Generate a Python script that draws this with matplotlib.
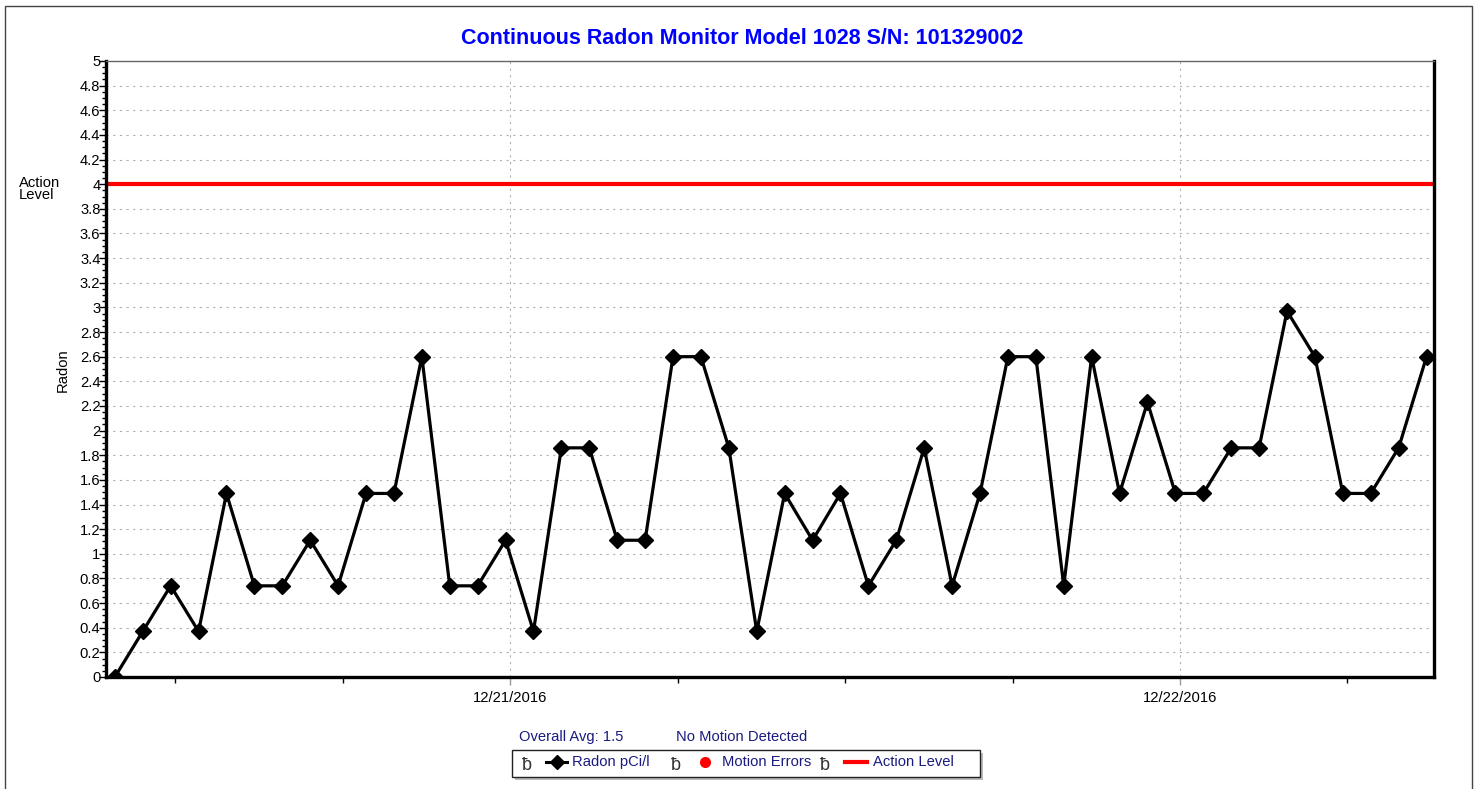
import matplotlib
matplotlib.use("Agg")
import matplotlib.pyplot as plt
import matplotlib.dates as mdates
import pandas as pd
from matplotlib.lines import Line2D
from matplotlib.patches import Rectangle
from matplotlib.ticker import MultipleLocator, FuncFormatter

plt.rcParams["font.family"] = ["Liberation Sans", "DejaVu Sans"]

# hourly readings, pCi/l
start_time = "2016-12-20 09:50"
radon = [0.0, 0.37, 0.74, 0.37, 1.49, 0.74, 0.74, 1.11, 0.74, 1.49,
         1.49, 2.6, 0.74, 0.74, 1.11, 0.37, 1.86, 1.86, 1.11, 1.11,
         2.6, 2.6, 1.86, 0.37, 1.49, 1.11, 1.49, 0.74, 1.11, 1.86,
         0.74, 1.49, 2.6, 2.6, 0.74, 2.6, 1.49, 2.23, 1.49, 1.49,
         1.86, 1.86, 2.97, 2.6, 1.49, 1.49, 1.86, 2.6]
times = pd.date_range(start_time, periods=len(radon), freq="h")
action_level = 4
overall_avg = 1.5

title = "Continuous Radon Monitor Model 1028 S/N: 101329002"
navy = "#1a1a80"
small = 10.6

fig = plt.figure(figsize=(14.82, 7.89), dpi=100)
W, H = 1482, 789


def fx(px):
    return px / W


def fy(py):
    return 1 - py / H


# outer frame
fig.patches.append(Rectangle((fx(5), fy(795)), fx(1467), 1, transform=fig.transFigure,
                             fill=False, edgecolor="#444444", linewidth=1))

ax = fig.add_axes([fx(106), fy(677), fx(1434 - 106), fy(61) - fy(677)])

ax.plot(times, radon, color="black", linewidth=2.3, marker="D", markersize=8.5, zorder=3)
ax.axhline(action_level, color="#ff0000", linewidth=3, zorder=2)

ax.set_xlim(pd.Timestamp("2016-12-20 09:31"), pd.Timestamp("2016-12-22 09:06"))
ax.set_ylim(0, 5)

ax.yaxis.set_major_locator(MultipleLocator(0.2))
ax.yaxis.set_minor_locator(MultipleLocator(0.05))
ax.yaxis.set_major_formatter(FuncFormatter(lambda v, p: f"{v:g}"))
ax.tick_params(axis="y", which="major", length=5, width=1, pad=-1, labelsize=small, direction="out")
ax.tick_params(axis="y", which="minor", length=3, width=1, direction="out")

ax.xaxis.set_major_locator(mdates.DayLocator())
ax.xaxis.set_minor_locator(mdates.HourLocator(byhour=[6, 12, 18]))
ax.xaxis.set_major_formatter(mdates.DateFormatter("%m/%d/%Y"))
ax.tick_params(axis="x", which="major", length=6, width=1, color="#999999", pad=4, labelsize=small)
ax.tick_params(axis="x", which="minor", length=4, width=1, color="black")

grid_style = dict(color="#b0b0b0", linestyle=(0, (2, 4)), linewidth=0.8)
ax.grid(True, axis="y", which="major", **grid_style)
ax.grid(True, axis="x", which="major", **grid_style)

for side in ["left", "bottom", "right"]:
    ax.spines[side].set_linewidth(2.4)
    ax.spines[side].set_color("black")
ax.spines["top"].set_linewidth(1)
ax.spines["top"].set_color("#666666")

fig.text(fx(742), fy(38), title, ha="center", va="center", fontsize=15.5,
         fontweight="bold", color="#0000ff")
fig.text(fx(19), fy(189), "Action\nLevel", ha="left", va="center", fontsize=small, linespacing=0.8)
fig.text(fx(63), fy(370), "Radon", ha="center", va="center", rotation=90, fontsize=small)

# legend area
fig.text(fx(519), fy(737), f"Overall Avg: {overall_avg}", ha="left", va="center",
         fontsize=small, color=navy)
fig.text(fx(676), fy(737), "No Motion Detected", ha="left", va="center",
         fontsize=small, color=navy)

fig.patches.append(Rectangle((fx(515), fy(780)), fx(468), fy(753) - fy(780),
                             transform=fig.transFigure, facecolor="#bbbbbb",
                             edgecolor="none", zorder=1))
fig.patches.append(Rectangle((fx(512), fy(777)), fx(468), fy(750) - fy(777),
                             transform=fig.transFigure, facecolor="white",
                             edgecolor="#222222", linewidth=1, zorder=2))

row_y = fy(762)
for bx in [527, 676, 825]:
    fig.text(fx(bx), fy(765), "ƀ", ha="center", va="center", fontsize=13, color="#333333", zorder=3)

fig.add_artist(Line2D([fx(546), fx(567)], [row_y, row_y], color="black", linewidth=2.2, zorder=3))
fig.add_artist(Line2D([fx(556.5)], [row_y], color="black", marker="D", markersize=7,
                      linestyle="none", zorder=3))
fig.text(fx(572), row_y, "Radon pCi/l", ha="left", va="center", fontsize=small, color=navy)

fig.add_artist(Line2D([fx(705)], [row_y], color="#ff0000", marker="o", markersize=7,
                      linestyle="none", zorder=3))
fig.text(fx(722), row_y, "Motion Errors", ha="left", va="center", fontsize=small, color=navy)

fig.add_artist(Line2D([fx(845), fx(867)], [row_y, row_y], color="#ff0000", linewidth=3, zorder=3))
fig.text(fx(873), row_y, "Action Level", ha="left", va="center", fontsize=small, color=navy)

fig.savefig("out.png", dpi=100)
